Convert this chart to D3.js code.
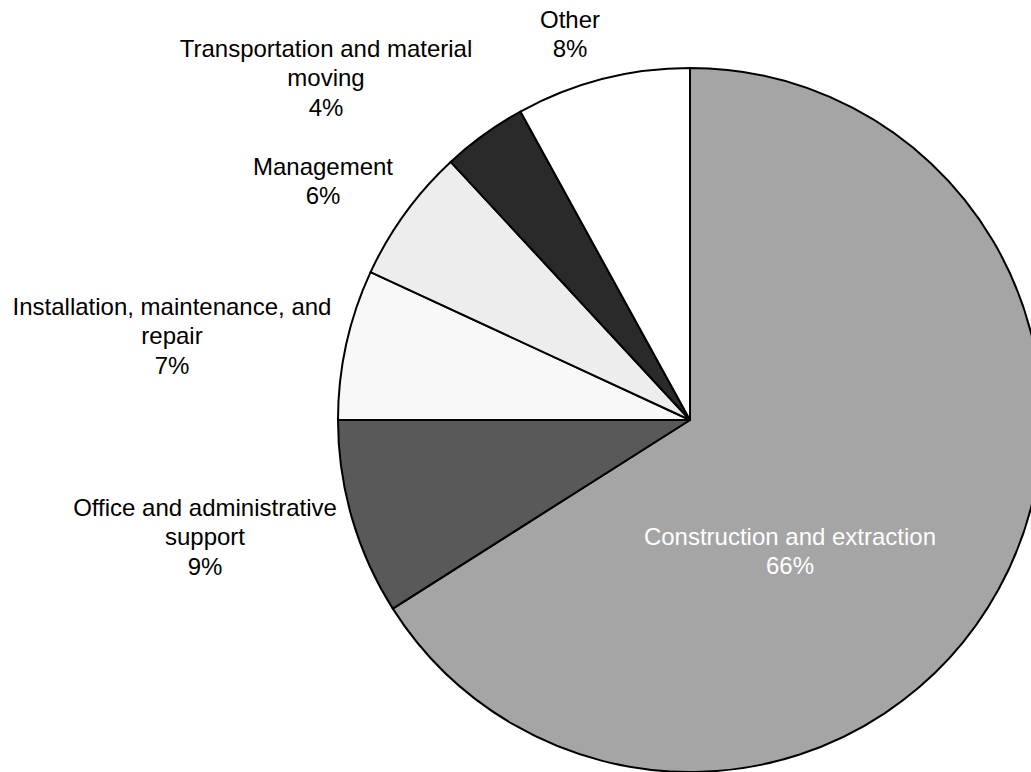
<!DOCTYPE html>
<html>
<head>
<meta charset="utf-8">
<script src="https://cdn.jsdelivr.net/npm/d3@7"></script>
<style>
  body { margin:0; background:#fff; }
  svg { display:block; }
</style>
</head>
<body>
<div id="chart"></div>
<script>
// occupations, clockwise from 12 o'clock
var categories = ["Construction and extraction", "Office and administrative support",
  "Installation, maintenance, and repair", "Management",
  "Transportation and material moving", "Other"];
var shares = [66.0, 9.0, 6.9, 6.2, 3.9, 8.0];

// label text split the way the chart wraps it
var labelLines = [
  ["Construction and extraction"],
  ["Office and administrative", "support"],
  ["Installation, maintenance, and", "repair"],
  ["Management"],
  ["Transportation and material", "moving"],
  ["Other"]
];

var fills = ["#a5a5a5", "#595959", "#f8f8f8", "#ededed", "#2a2a2a", "#ffffff"];
var textFills = ["#ffffff", "#000", "#000", "#000", "#000", "#000"];
// label anchor (center x, first baseline y), best fit placement
var labelPos = [[790, 545], [205, 516], [172, 315], [323, 175], [326, 57], [570, 28]];

var width = 1031, height = 772;
var cx = 690, cy = 420, radius = 352;
var lineH = 29.3;

var svg = d3.select("#chart").append("svg")
    .attr("width", width)
    .attr("height", height);

var data = categories.map(function(c, i) { return {name: c, value: shares[i], i: i}; });

var pie = d3.pie()
    .sort(null)
    .value(function(d) { return d.value; });

var arc = d3.arc()
    .innerRadius(0)
    .outerRadius(radius);

var g = svg.append("g")
    .attr("transform", "translate(" + cx + "," + cy + ")");

g.selectAll("path")
  .data(pie(data))
  .enter().append("path")
    .attr("d", arc)
    .attr("fill", function(d) { return fills[d.data.i]; })
    .attr("stroke", "#000")
    .attr("stroke-width", 2)
    .attr("stroke-linejoin", "round");

var labels = svg.append("g")
    .attr("font-family", "'Liberation Sans', Arial, sans-serif")
    .attr("font-size", 24)
    .attr("text-anchor", "middle")
  .selectAll("text")
  .data(data)
  .enter().append("text")
    .attr("fill", function(d) { return textFills[d.i]; })
    .attr("x", function(d) { return labelPos[d.i][0]; })
    .attr("y", function(d) { return labelPos[d.i][1]; });

labels.each(function(d) {
  var t = d3.select(this);
  var lines = labelLines[d.i].concat([Math.round(d.value) + "%"]);
  lines.forEach(function(l, k) {
    t.append("tspan")
      .attr("x", labelPos[d.i][0])
      .attr("y", labelPos[d.i][1] + k * lineH)
      .text(l);
  });
});
</script>
</body>
</html>
